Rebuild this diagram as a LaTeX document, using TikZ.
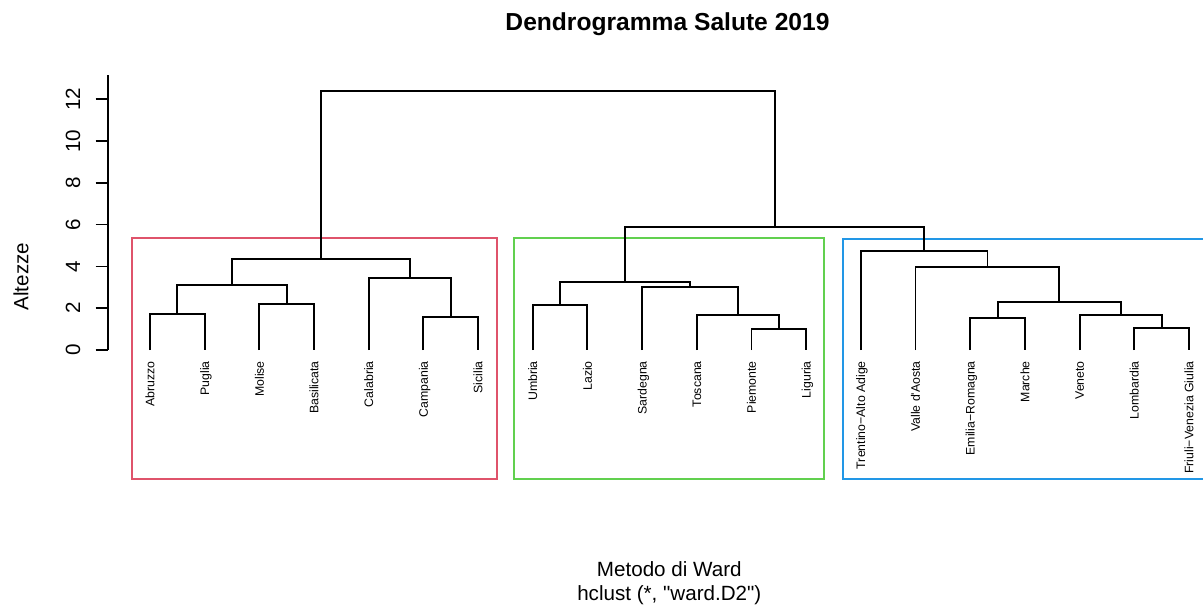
\documentclass[tikz,border=0pt]{standalone}
\usepackage{fontspec}
\setmainfont{Liberation Sans}[Ligatures=TeXOff]
\definecolor{rred}{HTML}{DF536B}
\definecolor{rgreen}{HTML}{61D04F}
\definecolor{rblue}{HTML}{2297E6}
\begin{document}
\begin{tikzpicture}[x=1pt,y=-1pt,
  dendro/.style={draw=black,line width=1.9pt},
  clusterbox/.style={line width=1.8pt},
  axisline/.style={draw=black,line width=1.6pt},
  leaflabel/.style={rotate=90,anchor=base east,inner sep=0pt,font=\fontsize{12.3}{14}\selectfont},
  ticklabel/.style={rotate=90,anchor=base,inner sep=0pt,font=\fontsize{20.6}{24}\selectfont},
  axistitle/.style={anchor=base,inner sep=0pt,font=\fontsize{20.6}{24}\selectfont},
  maintitle/.style={anchor=base,inner sep=0pt,font=\fontsize{24.6}{29}\selectfont\bfseries}]
\useasboundingbox (0,0) rectangle (1203,608);
\clip (0,0) rectangle (1203,608);

% title and axis titles
\node[maintitle] (title) at (667.5,30) {Dendrogramma Salute 2019};
\node[axistitle] (xlab1) at (669.3,576.7) {Metodo di Ward};
\node[axistitle] (xlab2) at (669.3,600) {hclust (*, "ward.D2")};
\node[axistitle,rotate=90] (ylab) at (28.3,276.7) {Altezze};

% y axis
\coordinate (axtop) at (107.7,75);
\coordinate (axbot) at (107.7,350);
\draw[axisline] (axtop) -- (axbot);
\foreach \v/\yy in {0/350,2/308.2,4/266.4,6/224.6,8/182.8,10/141,12/99.2}{
  \coordinate (tk\v) at (107.7,\yy);
  \coordinate (tl\v) at (95.7,\yy);
  \draw[axisline] (tl\v) -- (tk\v);
  \node[ticklabel] (tn\v) at (80,\yy) {\v};
}

% cluster boxes
\draw[clusterbox,draw=rred] (131.7,238.3) rectangle (496.7,479.3);
\draw[clusterbox,draw=rgreen] (514.3,238.3) rectangle (824.3,479);
\draw[clusterbox,draw=rblue] (842.7,238.6) rectangle (1215,479);

% leaves
\foreach \i/\name in {1/Abruzzo,2/Puglia,3/Molise,4/Basilicata,5/Calabria,6/Campania,7/Sicilia,
  8/Umbria,9/Lazio,10/Sardegna,11/Toscana,12/Piemonte,13/Liguria,
  14/Trentino−Alto Adige,15/Valle d'Aosta,16/Emilia−Romagna,17/Marche,18/Veneto,19/Lombardia,20/Friuli−Venezia Giulia}{
  \pgfmathsetmacro{\lx}{150+54.68*(\i-1)}
  \coordinate (L\i) at (\lx,350);
  \node[leaflabel] (N\i) at (\lx+4.4,361) {\name};
}

% merge points
\coordinate (mAP) at (177.3,314);
\coordinate (mMB) at (286.8,304);
\coordinate (mR1) at (232.0,285);
\coordinate (mCS) at (450.8,317.3);
\coordinate (mR2) at (409.8,277.7);
\coordinate (mR) at (320.9,258.7);
\coordinate (mUL) at (560.2,304.7);
\coordinate (mPL) at (779.0,329);
\coordinate (mTPL) at (738.0,314.7);
\coordinate (mS) at (690.2,287);
\coordinate (mG) at (625.2,282.3);
\coordinate (mLF) at (1161.9,328.3);
\coordinate (mV) at (1120.9,315);
\coordinate (mEM) at (997.8,318);
\coordinate (mEMV) at (1059.3,302);
\coordinate (mVA) at (987.5,266.7);
\coordinate (mT) at (924.3,250.7);
\coordinate (mGB) at (774.7,226.7);
\coordinate (mTop) at (547.8,90.7);

% dendrogram
\draw[dendro] (L1) |- (mAP) -| (L2);
\draw[dendro] (L3) |- (mMB) -| (L4);
\draw[dendro] (mAP) |- (mR1) -| (mMB);
\draw[dendro] (L6) |- (mCS) -| (L7);
\draw[dendro] (L5) |- (mR2) -| (mCS);
\draw[dendro] (mR1) |- (mR) -| (mR2);
\draw[dendro] (L8) |- (mUL) -| (L9);
\draw[dendro] (L12) |- (mPL) -| (L13);
\draw[dendro] (L11) |- (mTPL) -| (mPL);
\draw[dendro] (L10) |- (mS) -| (mTPL);
\draw[dendro] (mUL) |- (mG) -| (mS);
\draw[dendro] (L19) |- (mLF) -| (L20);
\draw[dendro] (L18) |- (mV) -| (mLF);
\draw[dendro] (L16) |- (mEM) -| (L17);
\draw[dendro] (mEM) |- (mEMV) -| (mV);
\draw[dendro] (L15) |- (mVA) -| (mEMV);
\draw[dendro] (L14) |- (mT) -| (mVA);
\draw[dendro] (mG) |- (mGB) -| (mT);
\draw[dendro] (mR) |- (mTop) -| (mGB);
\end{tikzpicture}
\end{document}
